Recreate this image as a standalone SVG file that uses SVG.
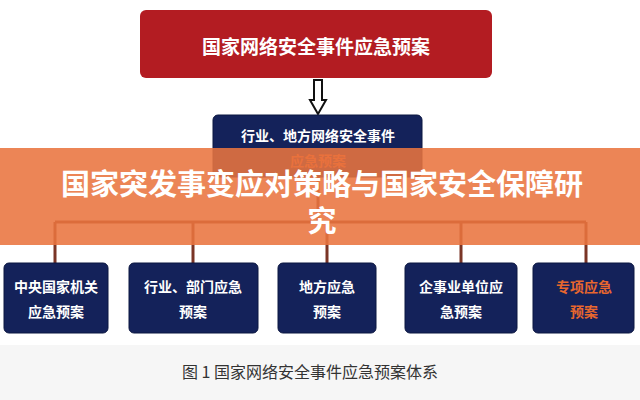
<svg xmlns="http://www.w3.org/2000/svg" width="640" height="400" viewBox="0 0 640 400">
<style>
.n{fill:#14225a;stroke:#0b1640;stroke-width:1}
.t{font-family:"Noto Sans CJK SC",sans-serif;font-weight:bold;font-size:14px;fill:#fff;text-anchor:middle}
.c{stroke:#7a3526;stroke-width:3;fill:none}
</style>
<rect width="640" height="400" fill="#fff"/>
<rect x="0" y="345" width="640" height="55" fill="#f6f6f6"/>
<g id="top"><rect x="140" y="10" width="352" height="68" rx="6" fill="#b31c22"/>
<text x="316" y="54" class="t" style="font-size:19px">国家网络安全事件应急预案</text></g>
<g id="conn">
<path d="M314 80 V100 H310 L318 114 L326 100 H322 V80 Z" fill="#fff" stroke="#111" stroke-width="2"/>
<path class="c" d="M318 175 V222 M55 222 H586 M55 222 V263 M193 222 V263 M327 222 V263 M461 222 V263 M586 222 V263"/>
</g>
<g id="mid"><rect x="213" y="115" width="209" height="62" rx="5" class="n"/>
<text x="318" y="141" class="t">行业、地方网络安全事件</text>
<text x="318" y="166" class="t" style="fill:#e05a2a">应急预案</text></g>
<g id="b1"><rect x="4" y="263" width="104" height="70" rx="5" class="n"/><text x="56" y="292" class="t">中央国家机关</text><text x="56" y="317" class="t">应急预案</text></g>
<g id="b2"><rect x="129" y="263" width="129" height="70" rx="5" class="n"/><text x="193" y="292" class="t">行业、部门应急</text><text x="193" y="317" class="t">预案</text></g>
<g id="b3"><rect x="278" y="263" width="98" height="70" rx="5" class="n"/><text x="327" y="292" class="t">地方应急</text><text x="327" y="317" class="t">预案</text></g>
<g id="b4"><rect x="405" y="263" width="112" height="70" rx="5" class="n"/><text x="461" y="292" class="t">企事业单位应</text><text x="461" y="317" class="t">急预案</text></g>
<g id="b5"><rect x="533" y="263" width="101" height="70" rx="5" class="n"/><text x="584" y="292" class="t" style="fill:#e8672e">专项应急</text><text x="584" y="317" class="t" style="fill:#e8672e">预案</text></g>
<text x="310" y="378" style="font-family:'Noto Sans CJK SC',sans-serif;font-size:16px;fill:#333" text-anchor="middle">图 1  国家网络安全事件应急预案体系</text>
<g id="banner"><rect x="0" y="148" width="640" height="97" fill="#e9743f" opacity="0.88"/>
<text x="322" y="195" class="t" style="font-size:29px">国家突发事变应对策略与国家安全保障研</text>
<text x="322" y="232" class="t" style="font-size:29px">究</text></g>
</svg>
